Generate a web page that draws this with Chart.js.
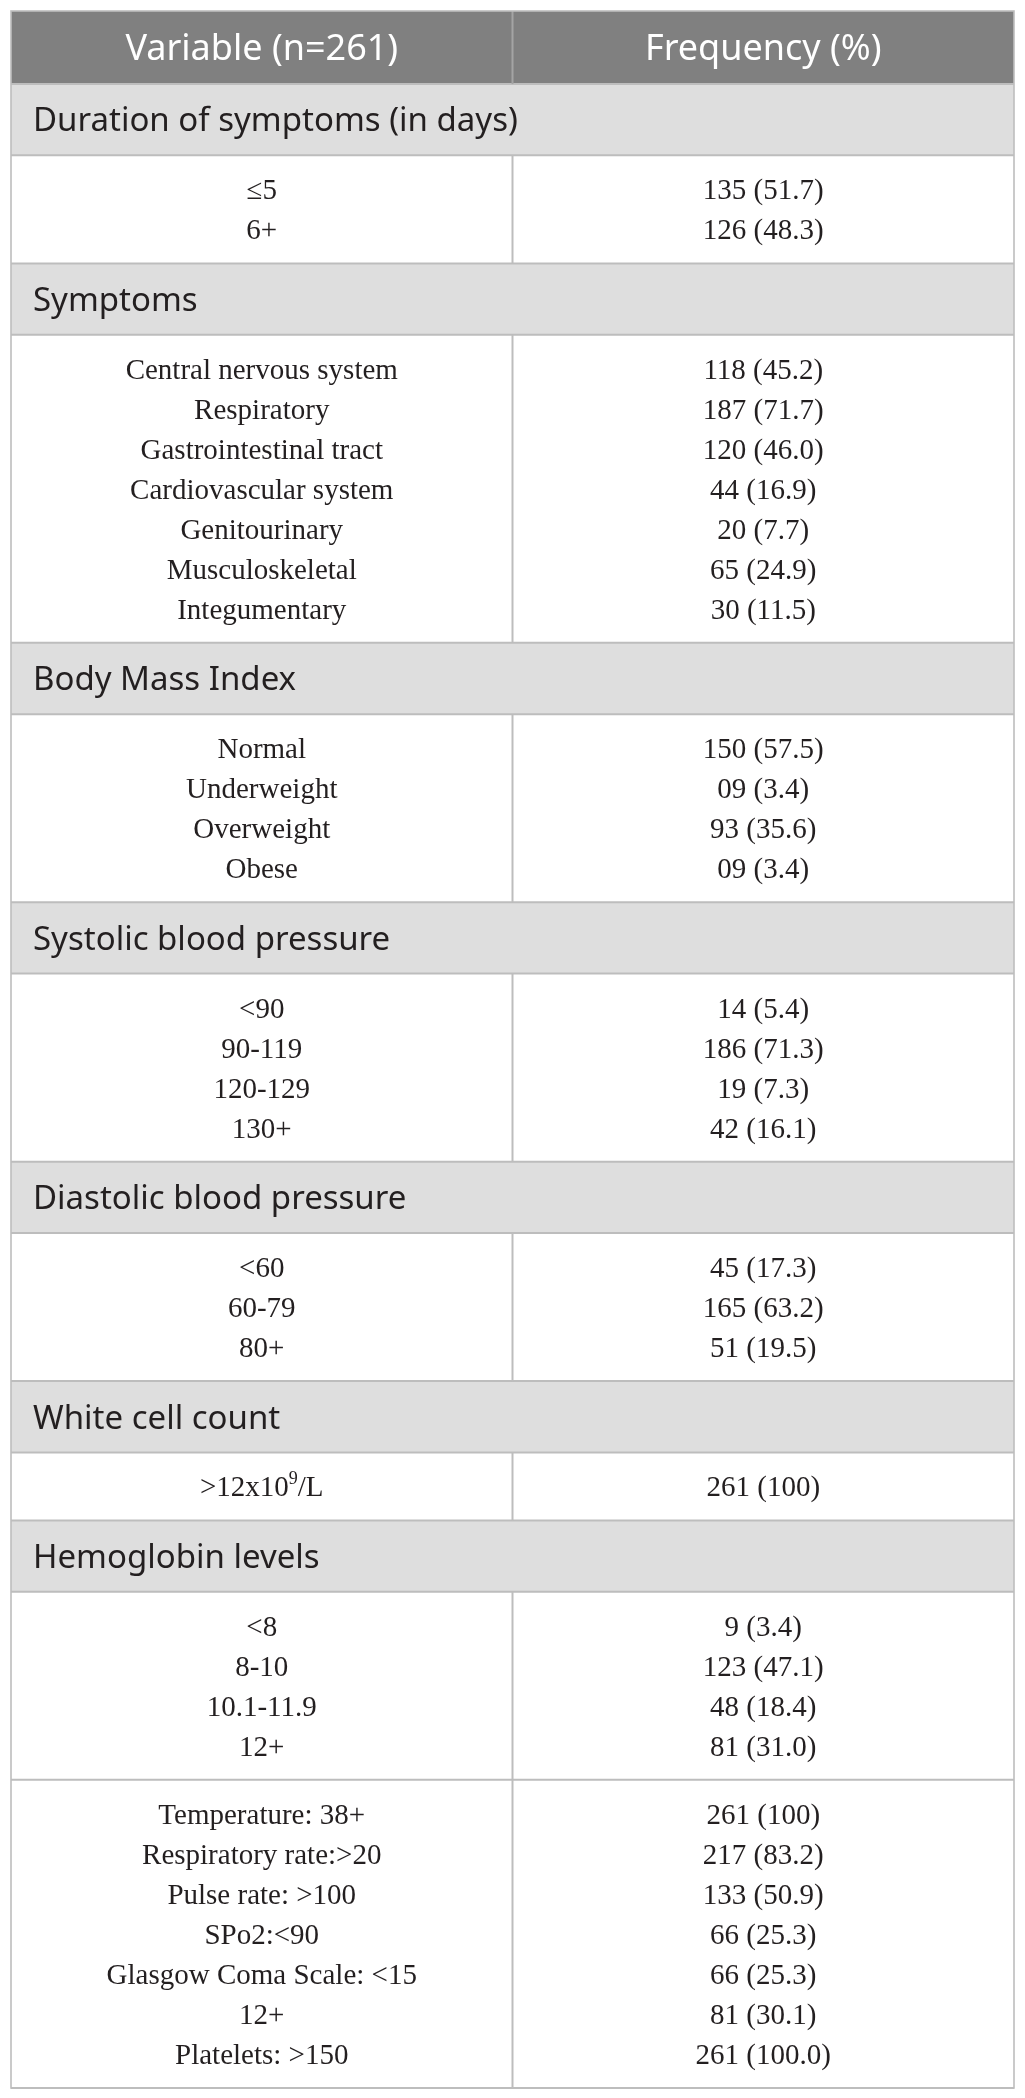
<!DOCTYPE html>
<html>
<head>
<meta charset="utf-8">
<script src="https://cdn.jsdelivr.net/npm/chart.js@4.4.1/dist/chart.umd.min.js"></script>
<style>
  html, body { margin: 0; padding: 0; background: #fff; }
  #wrap { width: 1025px; height: 2098px; }
</style>
</head>
<body>
<div id="wrap"><canvas id="table"></canvas></div>
<script>
// column titles and section titles (last group has no title)
const columnTitles = ['Variable (n=261)', 'Frequency (%)'];
const sections = [
  'Duration of symptoms (in days)',
  'Symptoms',
  'Body Mass Index',
  'Systolic blood pressure',
  'Diastolic blood pressure',
  'White cell count',
  'Hemoglobin levels',
  ''
];

// variables per section
const variables = [
  ['≤5', '6+'],
  ['Central nervous system', 'Respiratory', 'Gastrointestinal tract', 'Cardiovascular system',
   'Genitourinary', 'Musculoskeletal', 'Integumentary'],
  ['Normal', 'Underweight', 'Overweight', 'Obese'],
  ['<90', '90-119', '120-129', '130+'],
  ['<60', '60-79', '80+'],
  ['>12x10^9/L'],
  ['<8', '8-10', '10.1-11.9', '12+'],
  ['Temperature: 38+', 'Respiratory rate:>20', 'Pulse rate: >100', 'SPo2:<90',
   'Glasgow Coma Scale: <15', '12+', 'Platelets: >150']
];

// counts and percentages, kept as printed
const counts = [
  ['135', '126'],
  ['118', '187', '120', '44', '20', '65', '30'],
  ['150', '09', '93', '09'],
  ['14', '186', '19', '42'],
  ['45', '165', '51'],
  ['261'],
  ['9', '123', '48', '81'],
  ['261', '217', '133', '66', '66', '81', '261']
];
const percents = [
  ['51.7', '48.3'],
  ['45.2', '71.7', '46.0', '16.9', '7.7', '24.9', '11.5'],
  ['57.5', '3.4', '35.6', '3.4'],
  ['5.4', '71.3', '7.3', '16.1'],
  ['17.3', '63.2', '19.5'],
  ['100'],
  ['3.4', '47.1', '18.4', '31.0'],
  ['100', '83.2', '50.9', '25.3', '25.3', '30.1', '100.0']
];

// row heights in y-scale units
const HEAD = 73, SECTION = 71.3, LINE = 40, PAD = 28;
const HEAD_FONT = 36, SECTION_FONT = 33, BODY_FONT = 29;

const layout = [{ kind: 'head', top: 0, bottom: HEAD }];
let cursor = HEAD;
sections.forEach(function(title, i) {
  if (title) {
    layout.push({ kind: 'section', top: cursor, bottom: cursor + SECTION, title: title });
    cursor += SECTION;
  }
  const bottom = cursor + PAD + variables[i].length * LINE;
  layout.push({ kind: 'block', top: cursor, bottom: bottom, index: i });
  cursor = bottom;
});
const totalHeight = cursor;

const SANS = '"Noto Sans", "Open Sans", sans-serif';
const SERIF = '"Liberation Serif", "Times New Roman", serif';

// centred text, with "^x" read as a superscript
function drawCentered(ctx, text, cx, baseline, size) {
  const parts = text.split('^');
  if (parts.length === 1) {
    ctx.font = size + 'px ' + SERIF;
    ctx.textAlign = 'center';
    ctx.fillText(text, cx, baseline);
    return;
  }
  const sup = parts[1].charAt(0), rest = parts[1].slice(1);
  const supSize = Math.round(size * 0.62);
  ctx.font = size + 'px ' + SERIF;
  const w1 = ctx.measureText(parts[0]).width, w3 = ctx.measureText(rest).width;
  ctx.font = supSize + 'px ' + SERIF;
  const w2 = ctx.measureText(sup).width;
  let x = cx - (w1 + w2 + w3) / 2;
  ctx.textAlign = 'left';
  ctx.font = size + 'px ' + SERIF;
  ctx.fillText(parts[0], x, baseline);
  ctx.font = supSize + 'px ' + SERIF;
  ctx.fillText(sup, x + w1, baseline - size * 0.42);
  ctx.font = size + 'px ' + SERIF;
  ctx.fillText(rest, x + w1 + w2, baseline);
}

const tablePlugin = {
  id: 'tableCells',
  beforeDatasetsDraw(chart) {
    const ctx = chart.ctx;
    const x = chart.scales.x, y = chart.scales.y;
    const xl = x.getPixelForValue(0), xm = x.getPixelForValue(1), xr = x.getPixelForValue(2);
    const lineColor = '#bdbdbd';
    ctx.save();

    // backgrounds
    layout.forEach(function(r) {
      const t = y.getPixelForValue(r.top), b = y.getPixelForValue(r.bottom);
      if (r.kind === 'head') ctx.fillStyle = '#808080';
      else if (r.kind === 'section') ctx.fillStyle = '#dedede';
      else ctx.fillStyle = '#ffffff';
      ctx.fillRect(xl, t, xr - xl, b - t);
    });

    // rules
    ctx.strokeStyle = lineColor;
    ctx.lineWidth = 2;
    layout.forEach(function(r) {
      const t = y.getPixelForValue(r.top), b = y.getPixelForValue(r.bottom);
      ctx.beginPath();
      ctx.moveTo(xl, b); ctx.lineTo(xr, b);
      ctx.stroke();
      if (r.kind !== 'section') {
        ctx.strokeStyle = r.kind === 'head' ? '#a4a4a4' : lineColor;
        ctx.beginPath();
        ctx.moveTo(xm, t); ctx.lineTo(xm, b);
        ctx.stroke();
        ctx.strokeStyle = lineColor;
      }
    });
    ctx.lineWidth = 1.6;
    ctx.strokeRect(xl, y.getPixelForValue(0), xr - xl, y.getPixelForValue(totalHeight) - y.getPixelForValue(0));

    // text
    ctx.textBaseline = 'alphabetic';
    layout.forEach(function(r) {
      const t = y.getPixelForValue(r.top), b = y.getPixelForValue(r.bottom);
      const mid = (t + b) / 2;
      if (r.kind === 'head') {
        ctx.fillStyle = '#ffffff';
        ctx.font = HEAD_FONT + 'px ' + SANS;
        ctx.textAlign = 'center';
        ctx.fillText(columnTitles[0], (xl + xm) / 2, mid + HEAD_FONT * 0.357);
        ctx.fillText(columnTitles[1], (xm + xr) / 2, mid + HEAD_FONT * 0.357);
      } else if (r.kind === 'section') {
        ctx.fillStyle = '#231f20';
        ctx.font = SECTION_FONT + 'px ' + SANS;
        ctx.textAlign = 'left';
        ctx.fillText(r.title, xl + 22, mid + SECTION_FONT * 0.357);
      } else {
        ctx.fillStyle = '#231f20';
        variables[r.index].forEach(function(label, j) {
          const cy = y.getPixelForValue(r.top + PAD / 2 + LINE * (j + 0.5));
          const base = cy + BODY_FONT * 0.345;
          drawCentered(ctx, label, (xl + xm) / 2, base, BODY_FONT);
          drawCentered(ctx, counts[r.index][j] + ' (' + percents[r.index][j] + ')', (xm + xr) / 2, base, BODY_FONT);
        });
      }
    });
    ctx.restore();
  }
};

new Chart(document.getElementById('table'), {
  type: 'scatter',
  data: { datasets: [{ data: [] }] },
  options: {
    responsive: true,
    maintainAspectRatio: false,
    animation: false,
    events: [],
    layout: { padding: { left: 11, right: 11, top: 11, bottom: 10 } },
    plugins: { legend: { display: false }, tooltip: { enabled: false } },
    scales: {
      x: { type: 'linear', min: 0, max: 2, display: false },
      y: { type: 'linear', min: 0, max: totalHeight, reverse: true, display: false }
    }
  },
  plugins: [tablePlugin]
});
</script>
</body>
</html>
